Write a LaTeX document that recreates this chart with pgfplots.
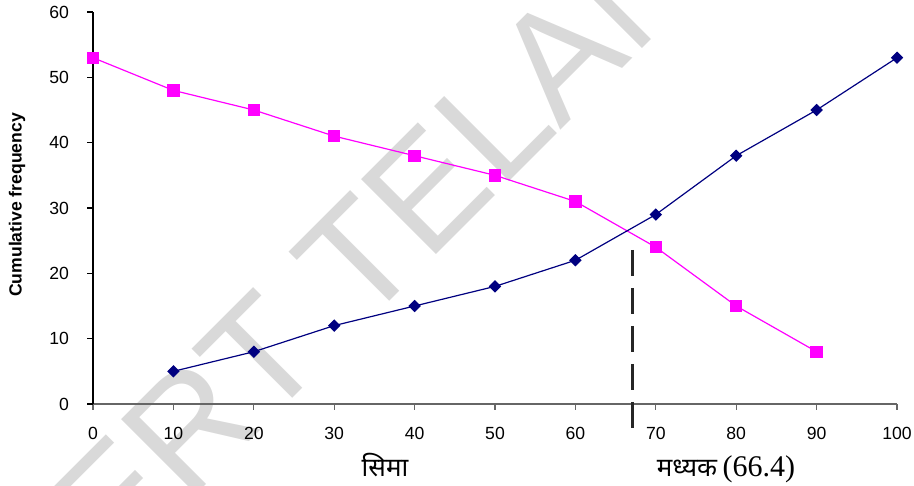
\documentclass[border=0pt]{standalone}
\usepackage{pgfplots}
\pgfplotsset{compat=1.18}
\usepackage{fontspec}
\setmainfont{Liberation Sans}
\newfontfamily\devfont[Script=Devanagari]{Noto Sans}
\newfontfamily\seriffont{Liberation Serif}
\definecolor{pinkline}{RGB}{255,0,255}
\definecolor{navyline}{RGB}{0,0,128}
\definecolor{wm}{RGB}{217,217,217}
\begin{document}
\begin{tikzpicture}
\node[rotate=45, text=wm, font=\fontsize{77}{80}\selectfont, inner sep=0pt] at (179.5pt,120pt) {NCERT TELANGANA};
\begin{axis}[
 scale only axis, width=402pt, height=196pt,
 xmin=0, xmax=100, ymin=0, ymax=60,
 axis x line*=bottom, axis y line*=left,
 xtick={0,10,...,100}, ytick={0,10,...,60},
 tick align=outside, major tick length=3pt,
 x axis line style={black!60, line width=0.6pt},
 y axis line style={black, line width=0.6pt},
 xtick style={black!60, line width=0.6pt},
 ytick style={black, line width=0.6pt},
 ticklabel style={font=\fontsize{8.8}{10}\selectfont},
 /pgf/number format/assume math mode=true,
 xticklabel style={yshift=-5pt},
 yticklabel style={xshift=-5.5pt},
 ylabel={Cumulative frequency},
 ylabel style={at={(axis description cs:-0.0945,0.508)}, anchor=center, font=\bfseries\fontsize{8.8}{10}\selectfont},
 clip=false,
]
\addplot[pinkline, line width=0.6pt, mark=square*, mark size=2.8pt, mark options={solid}] coordinates {
(0,53) (10,48) (20,45) (30,41) (40,38) (50,35) (60,31) (70,24) (80,15) (90,8)};
\addplot[navyline, line width=0.6pt, mark=square*, mark size=1.9pt, mark options={solid, rotate=45}] coordinates {
(10,5) (20,8) (30,12) (40,15) (50,18) (60,22) (70,29) (80,38) (90,45) (100,53)};
\addplot[black!85, line width=1.3pt, dash pattern=on 13pt off 6pt] coordinates {(67.1,23.6) (67.1,-4)};
\end{axis}
\node[anchor=base, font=\devfont\fontsize{13}{15}\selectfont] at (146pt,-36.5pt) {सिमा};
\node[anchor=base] at (316.5pt,-36.5pt) {{\devfont\fontsize{13}{15}\selectfont मध्यक} {\seriffont\fontsize{15}{17}\selectfont (66.4)}};
\pgfresetboundingbox
\path[use as bounding box] (-46.5pt,-41pt) rectangle (410.5pt,202pt);
\end{tikzpicture}
\end{document}
